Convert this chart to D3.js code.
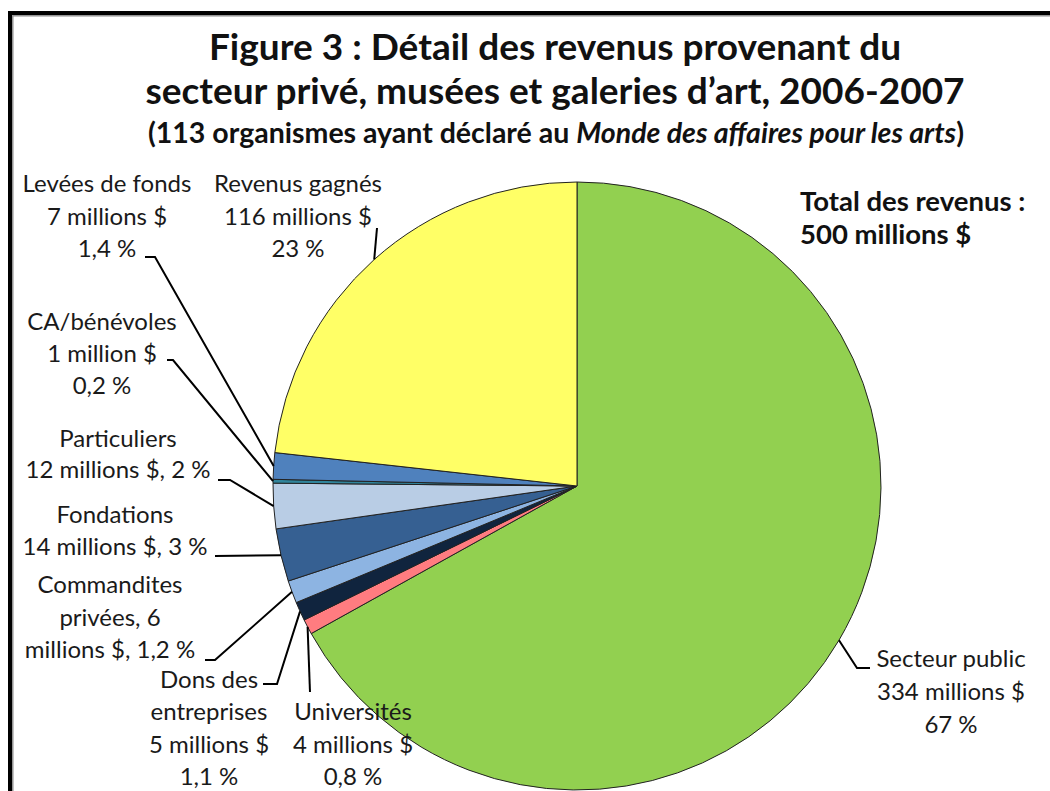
<!DOCTYPE html>
<html><head><meta charset="utf-8">
<script src="https://cdn.jsdelivr.net/npm/d3@7"></script>
<style>
html,body{margin:0;padding:0;background:#fff;overflow:hidden;}
svg{display:block;}
text{font-family:Lato,"Open Sans",sans-serif;fill:#1a1a1a;}
</style></head>
<body>
<svg id="chart" width="1050" height="791"></svg>
<script>
// ---- data ----
const categories = ["Secteur public","Universités","Dons des entreprises","Commandites privées","Fondations","Particuliers","CA/bénévoles","Levées de fonds","Revenus gagnés"];
const values = [334, 4, 5, 6, 14, 12, 1, 7, 116];
const labelLines = [
  ["Secteur public","334 millions $","67 %"],
  ["Universités","4 millions $","0,8 %"],
  ["Dons des","entreprises","5 millions $","1,1 %"],
  ["Commandites","privées, 6","millions $, 1,2 %"],
  ["Fondations","14 millions $, 3 %"],
  ["Particuliers","12 millions $, 2 %"],
  ["CA/bénévoles","1 million $","0,2 %"],
  ["Levées de fonds","7 millions $","1,4 %"],
  ["Revenus gagnés","116 millions $","23 %"]
];
const titleLines = ["Figure 3 : Détail des revenus provenant du","secteur privé, musées et galeries d\u2019art, 2006-2007"];
const subtitleParts = ["(113 organismes ayant déclaré au ","Monde des affaires pour les arts",")"];
const totalLines = ["Total des revenus :","500 millions $"];

// ---- styles / layout ----
const colors = ["#92D050","#FF7C80","#10243E","#8DB4E2","#366092","#B9CDE5","#31859C","#4F81BD","#FFFF66"];
const labelLayout = [
  {cx:951, y0:667, dy:33, ax:870, ay:668, ex:857, ey:668},
  {cx:353, y0:720, dy:32.5, ax:310, ay:692, ex:310, ey:692},
  {cx:209, y0:688, dy:32.3, ax:263, ay:684, ex:277, ey:684},
  {cx:110, y0:593, dy:32.5, ax:205, ay:660, ex:215, ey:660},
  {cx:115, y0:523, dy:32, ax:215, ay:556, ex:215, ey:556},
  {cx:118, y0:447, dy:31, ax:218, ay:480, ex:230, ey:480},
  {cx:102, y0:330, dy:32, ax:167, ay:360, ex:173, ey:360},
  {cx:107, y0:192, dy:32.5, ax:145, ay:257, ex:155, ey:257},
  {cx:298, y0:192, dy:32.5, ax:377, ay:228, ex:377, ey:228}
];

const svg = d3.select("#chart");

// frame
svg.append("rect").attr("x",10).attr("y",13).attr("width",1200).attr("height",1000)
  .attr("fill","none").attr("stroke","#000").attr("stroke-width",4);
svg.append("rect").attr("x",12.8).attr("y",15.8).attr("width",1200).attr("height",1000)
  .attr("fill","none").attr("stroke","#8a8a8a").attr("stroke-width",1.4);

// title
const title = svg.append("g");
titleLines.forEach((t,i)=>{
  title.append("text").attr("x",555).attr("y",60 + i*44).attr("text-anchor","middle")
    .style("font-weight","700").style("font-size","37px").style("fill","#111").text(t);
});
const sub = title.append("text").attr("x",556).attr("y",143).attr("text-anchor","middle")
  .style("font-weight","700").style("font-size","28.5px").style("fill","#111");
subtitleParts.forEach((p,i)=>{
  sub.append("tspan").style("font-style", i===1 ? "italic" : "normal").text(p);
});

// pie
const cx = 577, cy = 486, R = 304;
const pie = d3.pie().sort(null).value(d=>d)(values);
const arc = d3.arc().innerRadius(0).outerRadius(R);
const edge = d3.arc().innerRadius(R).outerRadius(R);
const g = svg.append("g").attr("transform",`translate(${cx},${cy})`);
g.selectAll("path").data(pie).join("path")
  .attr("d",arc).attr("fill",(d,i)=>colors[i])
  .attr("stroke","#222").attr("stroke-width",1).attr("stroke-linejoin","round");

// leaders
pie.forEach((d,i)=>{
  const L = labelLayout[i];
  const c = edge.centroid(d);
  const pts = [[L.ax,L.ay],[L.ex,L.ey],[cx+c[0],cy+c[1]]];
  svg.append("path").attr("d",d3.line()(pts)).attr("fill","none")
    .attr("stroke","#000").attr("stroke-width",2);
});

// labels
labelLines.forEach((lines,i)=>{
  const L = labelLayout[i];
  lines.forEach((t,j)=>{
    svg.append("text").attr("x",L.cx).attr("y",L.y0 + j*L.dy).attr("text-anchor","middle")
      .style("font-size","24px").text(t);
  });
});

// total
totalLines.forEach((t,i)=>{
  svg.append("text").attr("x",800).attr("y",211 + i*33)
    .style("font-weight","700").style("font-size","27.5px").style("fill","#111").text(t);
});
</script>
</body></html>
